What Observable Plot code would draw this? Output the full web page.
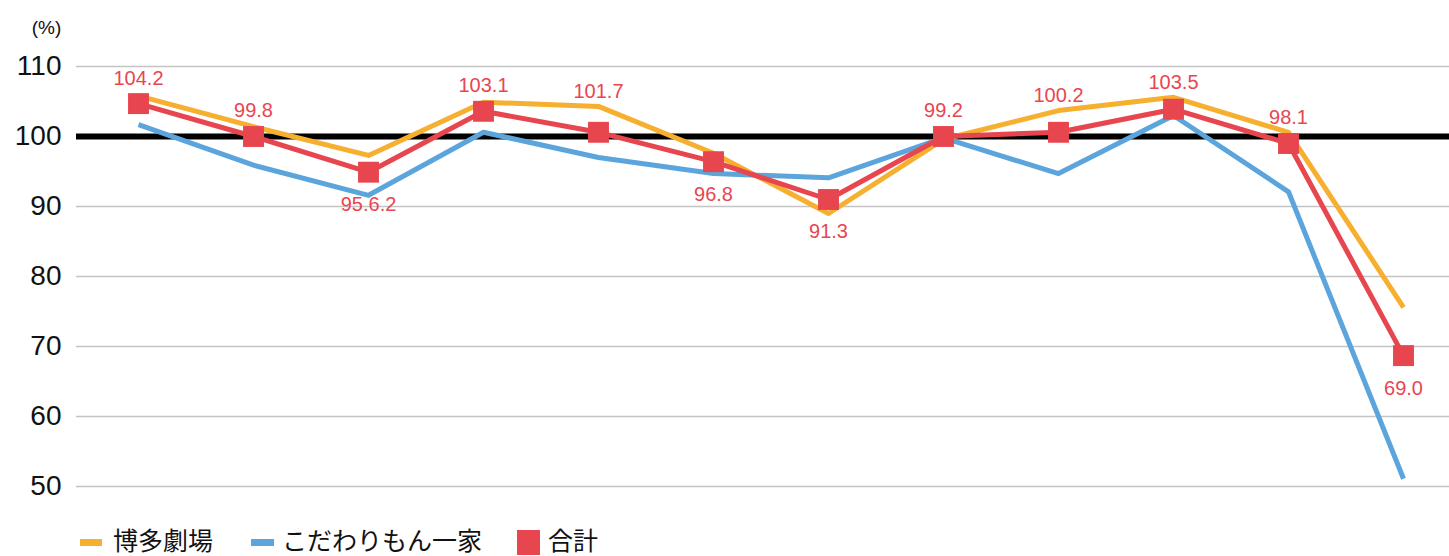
<!DOCTYPE html>
<html>
<head>
<meta charset="utf-8">
<script src="https://cdn.jsdelivr.net/npm/d3@7"></script>
<script src="https://cdn.jsdelivr.net/npm/@observablehq/plot@0.6"></script>
<style>
  body { margin: 0; background: #fff; }
  #wrap { position: relative; width: 1449px; height: 556px; overflow: hidden; font-family: "Liberation Sans", "Noto Sans CJK JP", sans-serif; }
  #chart svg { display: block; }
  #legend { position: absolute; left: 0; top: 515px; width: 1449px; height: 41px; font-family: "Noto Sans CJK JP", sans-serif; font-size: 25px; color: #111; }
  #legend .sw { position: absolute; }
  #legend .tx { position: absolute; line-height: 25px; white-space: nowrap; }
</style>
</head>
<body>
<div id="wrap">
  <div id="chart"></div>
  <div id="legend"></div>
</div>
<script>
// ---- data ----
const periods = ["1", "2", "3", "4", "5", "6", "7", "8", "9", "10", "11", "12"];
const hakata   = [105.8, 101.4, 97.3, 104.9, 104.3, 97.6, 89.0, 99.6, 103.7, 105.6, 100.6, 75.6];
const kodawari = [101.7, 95.9, 91.6, 100.6, 97.0, 94.7, 94.1, 99.8, 94.7, 103.0, 92.1, 51.1];
const total    = [104.7, 100.0, 94.9, 103.6, 100.6, 96.4, 91.0, 100.0, 100.6, 103.9, 99.0, 68.7];
const totalLabels = ["104.2", "99.8", "95.6.2", "103.1", "101.7", "96.8", "91.3", "99.2", "100.2", "103.5", "98.1", "69.0"];
const labelSide = ["above", "above", "below", "above", "above", "below", "below", "above", "above", "above", "above", "below"];
const yTicks = [50, 60, 70, 80, 90, 100, 110];
const seriesNames = ["博多劇場", "こだわりもん一家", "合計"];
const baseline = 100;

const colors = { hakata: "#F6AF2F", kodawari: "#5BA5DC", total: "#E8464F" };

const rows = periods.map((p, i) => ({
  period: p,
  hakata: hakata[i],
  kodawari: kodawari[i],
  total: total[i],
  label: totalLabels[i],
  side: labelSide[i],
  // anchor for labels: just above the highest of the square top / orange line, or just below the square
  anchorAbove: Math.max(hakata[i], total[i] + 1.5),
  anchorBelow: total[i] - 1.5
}));

const chart = Plot.plot({
  width: 1449,
  height: 515,
  marginLeft: 76,
  marginRight: 0,
  marginTop: 66,
  marginBottom: 29,
  style: { fontFamily: "Liberation Sans, Noto Sans CJK JP, sans-serif", background: "#fff", overflow: "visible" },
  x: { type: "point", domain: periods, range: [137, 1404], padding: 0, axis: null },
  y: { domain: [50, 110], range: [486, 66], axis: null },
  marks: [
    Plot.ruleY(yTicks.filter(d => d !== baseline), { stroke: "#c4c4c4", strokeWidth: 1.5 }),
    Plot.axisY(yTicks, { tickSize: 0, tickPadding: 15, fontSize: 28, fill: "#111", label: null }),
    Plot.ruleY([baseline], { stroke: "#000", strokeWidth: 6 }),
    Plot.line(rows, { x: "period", y: "hakata", stroke: colors.hakata, strokeWidth: 5, strokeLinecap: "butt" }),
    Plot.line(rows, { x: "period", y: "kodawari", stroke: colors.kodawari, strokeWidth: 5, strokeLinecap: "butt" }),
    Plot.line(rows, { x: "period", y: "total", stroke: colors.total, strokeWidth: 5, strokeLinecap: "butt" }),
    Plot.dot(rows, { x: "period", y: "total", symbol: "square", r: 11.8, fill: colors.total, stroke: null }),
    Plot.text(rows.filter(d => d.side === "above"), { x: "period", y: "anchorAbove", text: "label", dy: -15, fill: colors.total, fontSize: 20 }),
    Plot.text(rows.filter(d => d.side === "below"), { x: "period", y: "anchorBelow", text: "label", dy: 22, fill: colors.total, fontSize: 20 }),
    Plot.text(["(%)"], { frameAnchor: "top-left", dx: -30, dy: -39, textAnchor: "middle", lineAnchor: "middle", fontSize: 19, fill: "#111" })
  ]
});
document.getElementById("chart").appendChild(chart);

// ---- legend ----
const legend = document.getElementById("legend");
const legendItems = [
  { name: seriesNames[0], color: colors.hakata, sw: { left: 80, top: 24, w: 22, h: 7 }, tx: 113 },
  { name: seriesNames[1], color: colors.kodawari, sw: { left: 251, top: 24, w: 23, h: 7 }, tx: 282 },
  { name: seriesNames[2], color: colors.total, sw: { left: 517, top: 15, w: 23, h: 25 }, tx: 548 }
];
legendItems.forEach(it => {
  const s = document.createElement("div");
  s.className = "sw";
  s.style.left = it.sw.left + "px";
  s.style.top = it.sw.top + "px";
  s.style.width = it.sw.w + "px";
  s.style.height = it.sw.h + "px";
  s.style.background = it.color;
  legend.appendChild(s);
  const t = document.createElement("div");
  t.className = "tx";
  t.style.left = it.tx + "px";
  t.style.top = "12px";
  t.textContent = it.name;
  legend.appendChild(t);
});
</script>
</body>
</html>
